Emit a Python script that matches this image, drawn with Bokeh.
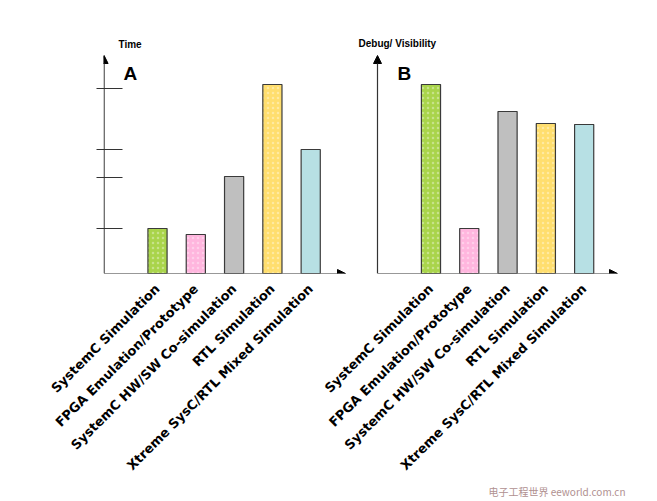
from bokeh.plotting import figure
from bokeh.models import Range1d, FixedTicker, Arrow, NormalHead, Label, Title
from bokeh.embed import file_html
from bokeh.resources import INLINE

# categories shown on both charts
categories = ["SystemC Simulation", "FPGA Emulation/Prototype",
              "SystemC HW/SW Co-simulation", "RTL Simulation",
              "Xtreme SysC/RTL Mixed Simulation"]
# relative bar heights (arbitrary units)
time_values = [45, 39, 97, 189, 124]
debug_values = [189, 45, 162, 150, 149]
time_ticks = [45, 96, 124, 185]
bar_colors = ["#a9d44b", "#ffb6de", "#bfbfbf", "#ffde6e", "#b7e0e4"]
bar_hatch = ["dot", "dot", " ", "dot", " "]

# both charts share one frame; chart B is shifted to the right
U = 38.3            # pixels per category slot
X0 = 1 - 54 / U     # chart A value axis (frame left edge)
B_SHIFT = 7.14
XB_AXIS = X0 + 274 / U
XA_END = X0 + 242 / U
XB_END = X0 + 514 / U
YTOP = 237
ARROW_TOP = 218

xa = [i + 1 for i in range(len(categories))]
xb = [round(i + 1 + B_SHIFT, 2) for i in range(len(categories))]

p = figure(width=649, height=498, output_backend="svg",
           toolbar_location=None, tools="",
           x_range=Range1d(X0, XB_END), y_range=Range1d(0, YTOP),
           min_border_left=103, min_border_right=32,
           min_border_top=36, min_border_bottom=225)
p.outline_line_color = None
p.grid.visible = False

for xs, vals in ((xa, time_values), (xb, debug_values)):
    p.vbar(x=xs, top=vals, width=0.5, bottom=0, fill_color=bar_colors,
           line_color="#3a3a3a", line_width=1.2,
           hatch_pattern=bar_hatch, hatch_color="white", hatch_alpha=0.35,
           hatch_scale=5)

# x axis: category names turned 45 degrees, once under each chart
p.xaxis.ticker = FixedTicker(ticks=xa + xb)
labels = {x: c for x, c in zip(xa, categories)}
labels.update({x: c for x, c in zip(xb, categories)})
p.xaxis.major_label_overrides = labels
p.xaxis.major_label_orientation = 0.785
p.xaxis.major_label_text_font = "DejaVu Sans"
p.xaxis.major_label_text_font_style = "bold"
p.xaxis.major_label_text_font_size = "13px"
p.xaxis.major_label_text_color = "black"
p.xaxis.major_label_standoff = 7
p.xaxis.axis_line_color = None
p.xaxis.major_tick_line_color = None
p.xaxis.minor_tick_line_color = None

# y axis of chart A: short marks only
p.yaxis.ticker = FixedTicker(ticks=time_ticks)
p.yaxis.major_label_overrides = {t: "" for t in time_ticks}
p.yaxis.major_tick_in = 19
p.yaxis.major_tick_out = 7
p.yaxis.major_tick_line_color = "#333333"
p.yaxis.minor_tick_line_color = None
p.yaxis.axis_line_color = None


def arrow(x0, y0, x1, y1):
    p.add_layout(Arrow(x_start=x0, y_start=y0, x_end=x1, y_end=y1,
                       line_color="#333333", line_width=1.2,
                       end=NormalHead(size=8, fill_color="black",
                                      line_color="black")))


def text(x, y, s, size):
    p.add_layout(Label(x=x, y=y, text=s, text_font="Liberation Sans",
                       text_font_style="bold", text_font_size=size,
                       text_baseline="middle", text_color="black"))


xa_axis = X0 + 0.6 / U
arrow(xa_axis, 0, XA_END, 0)
arrow(xa_axis, 0, xa_axis, ARROW_TOP)
arrow(XB_AXIS, 0, XB_END, 0)
arrow(XB_AXIS, 0, XB_AXIS, ARROW_TOP)

text(X0 + 15 / U, 229, "Time", "10px")
text(X0 + 20 / U, 200, "A", "19px")
text(XB_AXIS - 19 / U, 230, "Debug/ Visibility", "10px")
text(XB_AXIS + 20 / U, 200, "B", "19px")

# faint site mark in the corner
p.add_layout(Title(text="电子工程世界 eeworld.com.cn", align="right",
                   text_font="Noto Sans CJK SC", text_font_size="10px",
                   text_font_style="normal", text_color="#b09090",
                   standoff=0, offset=-8), "below")

open("out.html", "w").write(file_html(p, INLINE))
